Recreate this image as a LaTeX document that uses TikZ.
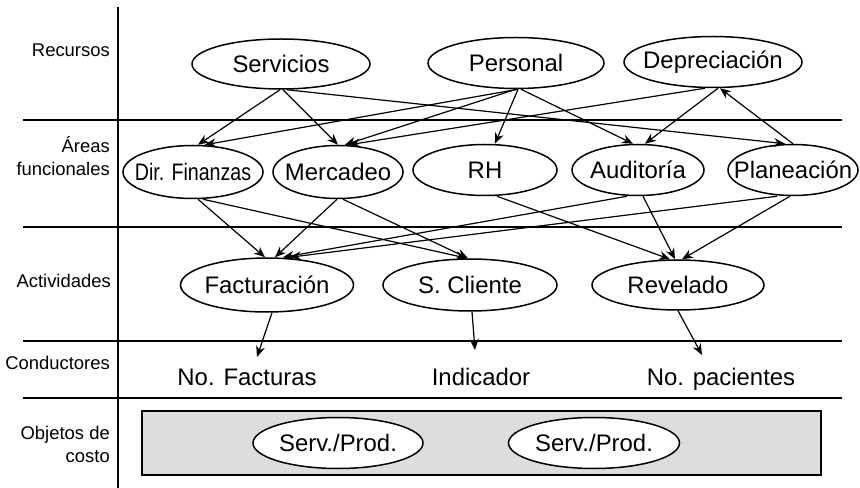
\documentclass[tikz,border=0pt]{standalone}
\usepackage{fontspec}
\setmainfont{Liberation Sans}
\usepackage{graphicx}
\usepackage{tikz}
\usetikzlibrary{shapes.geometric, arrows.meta}
\definecolor{boxgray}{RGB}{221,221,221}

\begin{document}
\begin{tikzpicture}[x=1bp, y=-1bp, >={Stealth[length=11bp,width=9bp]},
  every node/.style={font=\fontsize{24}{28}\selectfont},
  elli/.style={ellipse, draw, line width=1.5bp, inner xsep=-16bp, inner ysep=0pt, fill=white},
  lab/.style={anchor=east, align=right, inner sep=0pt, font=\fontsize{18.5}{23}\selectfont},
  arr/.style={->, line width=1.2bp},
  sep/.style={line width=2bp}]

\useasboundingbox (0,0) rectangle (860,488);

% Axis and row separators
\draw[sep] (118,7) -- (118,488);
\foreach \y in {120,227,341,398} {
  \draw[sep] (23,\y) -- (842,\y);
}

% Row labels
\node[lab] at (110,50) (lrec) {Recursos};
\node[lab] at (110,156) (lare) {Áreas\\funcionales};
\node[lab] at (111,281) (lact) {Actividades};
\node[lab] at (110,363) (lcon) {Conductores};
\node[lab] at (110,444) (lobj) {Objetos de\\costo};

% Resources
\node[elli,minimum width=178bp,minimum height=50bp] at (281,64) (serv) {Servicios};
\node[elli,minimum width=176bp,minimum height=51bp] at (516,63) (pers) {Personal};
\node[elli,minimum width=178bp,minimum height=51bp] at (713,62) (depr) {Depreciación};

% Functional areas
\node[elli,minimum width=140bp,minimum height=53bp] at (193,172) (dirf) {\scalebox{0.82}[1]{Dir. Finanzas}};
\node[elli,minimum width=130bp,minimum height=53bp] at (338,172) (merc) {Mercadeo};
\node[elli,minimum width=144bp,minimum height=51bp] at (485,170) (rh) {RH};
\node[elli,minimum width=132bp,minimum height=51bp] at (638,170) (aud) {Auditoría};
\node[elli,minimum width=130bp,minimum height=51bp] at (793,170) (plan) {Planeación};

% Activities
\node[elli,minimum width=173bp,minimum height=54bp] at (267,285) (fact) {Facturación};
\node[elli,minimum width=174bp,minimum height=52bp] at (470,285) (scli) {S. Cliente};
\node[elli,minimum width=172bp,minimum height=50bp] at (678,285) (rev) {Revelado};

% Drivers
\node[anchor=base] at (247,385) (nfact) {No. Facturas};
\node[anchor=base] at (481,385) (ind) {Indicador};
\node[anchor=base] at (721,385) (npac) {No. pacientes};
\coordinate (tfact) at (257,357);
\coordinate (tind) at (475,350);
\coordinate (tpac) at (702,355);

% Cost objects
\draw[sep,fill=boxgray] (142,411) rectangle (821,475);
\node[elli,minimum width=170bp,minimum height=51bp] at (338,443) (sp1) {Serv./Prod.};
\node[elli,minimum width=171bp,minimum height=51bp] at (594,443) (sp2) {Serv./Prod.};

% Resources to areas
\foreach \a/\sa/\b/\sb in {serv/-1/dirf/5, serv/2/merc/0, serv/6/plan/-8,
    pers/2/dirf/12, pers/0/merc/7, pers/2/rh/10, pers/5/aud/-5,
    depr/-8/merc/11, depr/5/aud/7} {
  \draw[arr] ([xshift=\sa]\a.south) -- ([xshift=\sb]\b.north);
}
\draw[arr] (plan.north) -- ([xshift=7]depr.south);

% Areas to activities
\foreach \a/\sa/\b/\sb in {dirf/5/fact/-2, dirf/10/scli/-3, merc/-1/fact/8,
    merc/5/scli/-2, aud/-11/fact/16, plan/-16/fact/23,
    rh/12/rev/-8, aud/5/rev/-3, plan/-3/rev/4} {
  \draw[arr] ([xshift=\sa]\a.south) -- ([xshift=\sb]\b.north);
}

% Activities to drivers
\draw[arr] ([xshift=5]fact.south) -- (tfact);
\draw[arr] ([xshift=2]scli.south) -- (tind);
\draw[arr] (rev.south) -- (tpac);

\end{tikzpicture}
\end{document}
